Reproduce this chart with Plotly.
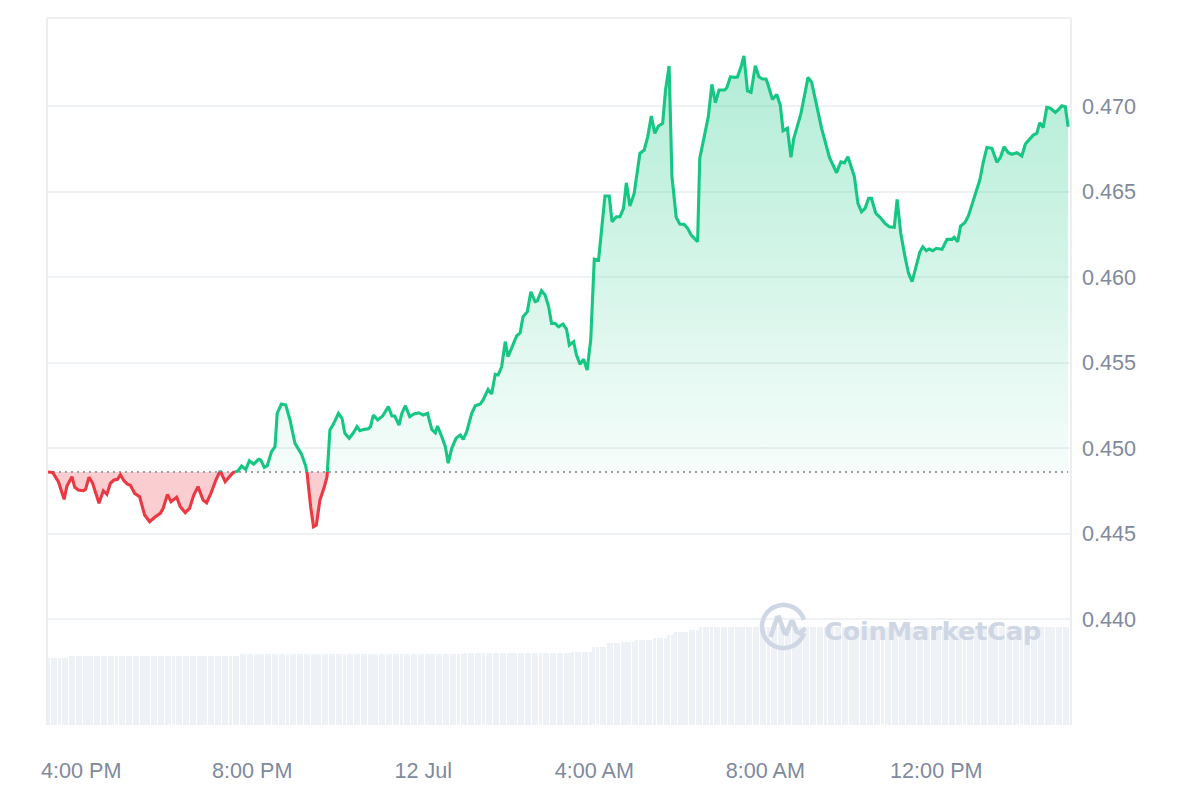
import math
import pandas as pd
import plotly.graph_objects as go

# ---------------- data ----------------
START = pd.Timestamp("2024-07-11 15:12")
WINDOW_MIN = 1437  # visible window length in minutes

# minutes after START for each price sample
price_minutes = [
    1, 8, 16, 24, 28, 35, 39, 44, 51, 54,
    59, 64, 73, 79, 84, 89, 94, 99, 103, 108,
    113, 117, 123, 130, 137, 144, 152, 159, 163, 169,
    174, 182, 187, 194, 200, 206, 212, 219, 224, 230,
    237, 243, 250, 256, 261, 268, 273, 279, 284, 290,
    297, 300, 305, 309, 315, 320, 323, 329, 335, 341,
    348, 357, 363, 365, 370, 374, 378, 383, 389, 393,
    397, 402, 409, 414, 418, 424, 430, 435, 439, 445,
    451, 454, 458, 464, 471, 479, 484, 488, 494, 498,
    503, 509, 515, 522, 528, 534, 540, 545, 548, 554,
    559, 563, 568, 574, 580, 584, 589, 596, 601, 608,
    612, 619, 624, 629, 633, 638, 643, 647, 654, 659,
    664, 668, 674, 679, 685, 688, 694, 699, 704, 708,
    713, 718, 724, 729, 733, 739, 743, 748, 753, 758,
    763, 768, 774, 779, 783, 789, 793, 799, 804, 809,
    813, 818, 824, 832, 838, 843, 848, 853, 858, 864,
    868, 873, 877, 883, 888, 894, 899, 904, 913, 916,
    922, 928, 933, 938, 943, 951, 954, 959, 966, 969,
    974, 978, 983, 988, 994, 999, 1004, 1009, 1012, 1018,
    1024, 1029, 1033, 1039, 1044, 1048, 1058, 1068, 1073, 1083,
    1087, 1098, 1108, 1114, 1119, 1124, 1133, 1138, 1143, 1148,
    1153, 1157, 1163, 1169, 1176, 1182, 1189, 1193, 1198, 1204,
    1209, 1214, 1220, 1225, 1229, 1234, 1238, 1243, 1248, 1256,
    1263, 1270, 1273, 1278, 1282, 1288, 1293, 1299, 1305, 1309,
    1314, 1319, 1326, 1333, 1338, 1343, 1349, 1354, 1361, 1368,
    1373, 1379, 1384, 1389, 1393, 1398, 1403, 1408, 1415, 1419,
    1424, 1429, 1433,
]

prices = [
    0.44860, 0.44857, 0.44803, 0.44700, 0.44778, 0.44832, 0.44770, 0.44754, 0.44750, 0.44758,
    0.44829, 0.44794, 0.44677, 0.44750, 0.44729, 0.44794, 0.44813, 0.44817, 0.44844, 0.44809,
    0.44788, 0.44782, 0.44735, 0.44715, 0.44608, 0.44569, 0.44598, 0.44618, 0.44647, 0.44729,
    0.44686, 0.44712, 0.44657, 0.44622, 0.44647, 0.44725, 0.44774, 0.44696, 0.44680, 0.44735,
    0.44813, 0.44866, 0.44803, 0.44832, 0.44856, 0.44866, 0.44895, 0.44875, 0.44926, 0.44906,
    0.44934, 0.44930, 0.44887, 0.44895, 0.44978, 0.45008, 0.45203, 0.45257, 0.45251, 0.45164,
    0.45027, 0.44965, 0.44895, 0.44852, 0.44657, 0.44540, 0.44550, 0.44696, 0.44770, 0.44832,
    0.45105, 0.45140, 0.45203, 0.45174, 0.45086, 0.45057, 0.45089, 0.45125, 0.45101, 0.45109,
    0.45113, 0.45125, 0.45193, 0.45164, 0.45187, 0.45242, 0.45187, 0.45187, 0.45134, 0.45203,
    0.45247, 0.45183, 0.45199, 0.45206, 0.45193, 0.45203, 0.45109, 0.45089, 0.45129, 0.45066,
    0.45008, 0.44911, 0.44998, 0.45057, 0.45076, 0.45051, 0.45095, 0.45203, 0.45247, 0.45257,
    0.45281, 0.45343, 0.45316, 0.45431, 0.45427, 0.45475, 0.45622, 0.45534, 0.45602, 0.45655,
    0.45674, 0.45768, 0.45797, 0.45914, 0.45856, 0.45860, 0.45920, 0.45895, 0.45826, 0.45729,
    0.45729, 0.45709, 0.45725, 0.45696, 0.45602, 0.45622, 0.45544, 0.45490, 0.45519, 0.45456,
    0.45632, 0.46104, 0.46099, 0.46294, 0.46474, 0.46474, 0.46323, 0.46353, 0.46353, 0.46402,
    0.46551, 0.46415, 0.46489, 0.46723, 0.46743, 0.46820, 0.46942, 0.46840, 0.46883, 0.46899,
    0.47094, 0.47234, 0.46587, 0.46349, 0.46310, 0.46308, 0.46285, 0.46246, 0.46206, 0.46694,
    0.46820, 0.46937, 0.47127, 0.47019, 0.47094, 0.47094, 0.47107, 0.47171, 0.47168, 0.47171,
    0.47230, 0.47294, 0.47088, 0.47080, 0.47236, 0.47171, 0.47158, 0.47158, 0.47123, 0.47039,
    0.47068, 0.47006, 0.46856, 0.46870, 0.46700, 0.46811, 0.46956, 0.47168, 0.47140, 0.46934,
    0.46870, 0.46700, 0.46610, 0.46674, 0.46668, 0.46704, 0.46587, 0.46431, 0.46382, 0.46402,
    0.46460, 0.46460, 0.46373, 0.46349, 0.46314, 0.46294, 0.46291, 0.46454, 0.46259, 0.46119,
    0.46022, 0.45973, 0.46060, 0.46148, 0.46177, 0.46154, 0.46164, 0.46154, 0.46168, 0.46162,
    0.46220, 0.46220, 0.46232, 0.46206, 0.46298, 0.46318, 0.46357, 0.46431, 0.46509, 0.46567,
    0.46674, 0.46758, 0.46753, 0.46671, 0.46700, 0.46762, 0.46727, 0.46718, 0.46727, 0.46708,
    0.46778, 0.46805, 0.46830, 0.46840, 0.46902, 0.46875, 0.46992, 0.46987, 0.46963, 0.46977,
    0.47002, 0.46996, 0.46879,
]

baseline_price = prices[0]

# 5-minute volume bars (relative units), read as step levels
volume = ([66.7] * 6 + [69.0] * 48 + [71.0] * 63 + [72.0] * 30 + [73.3] * 6
          + [78.3] * 4 + [81.7] * 4 + [83.3] * 4 + [85.0] * 5 + [86.7] * 4
          + [90.0] * 2 + [92.7] * 4 + [95.0] * 3 + [98.3] * 104)
VOLUME_AXIS_MAX = 707

x_tick_minutes = [48, 288, 528, 768, 1008, 1248]
x_tick_labels = ["4:00 PM", "8:00 PM", "12 Jul", "4:00 AM", "8:00 AM", "12:00 PM"]
y_tick_values = [0.440, 0.445, 0.450, 0.455, 0.460, 0.465, 0.470]
y_tick_labels = ["0.440", "0.445", "0.450", "0.455", "0.460", "0.465", "0.470"]
Y_RANGE = [0.43380, 0.47515]

# ---------------- styling ----------------
GREEN = "#16c784"
RED = "#ea3943"
TICK_COLOR = "#808a9d"
GRID = "#eff2f5"
FONT = "Liberation Sans, Arial, sans-serif"


def to_time(m):
    return None if m is None else START + pd.Timedelta(minutes=m)


# split the line into green (above baseline) and red (below) pieces
gx, gy, rx, ry = [], [], [], []
fx, fg, fr = [], [], []
for i, (m, p) in enumerate(zip(price_minutes, prices)):
    if i > 0:
        m0, p0 = price_minutes[i - 1], prices[i - 1]
        if (p0 >= baseline_price) != (p >= baseline_price):
            mc = m0 + (m - m0) * (baseline_price - p0) / (p - p0)
            fx.append(mc); fg.append(baseline_price); fr.append(baseline_price)
            if p0 >= baseline_price:
                gx += [mc, None]; gy += [baseline_price, None]
                rx.append(mc); ry.append(baseline_price)
            else:
                rx += [mc, None]; ry += [baseline_price, None]
                gx.append(mc); gy.append(baseline_price)
    if p >= baseline_price:
        gx.append(m); gy.append(p)
    else:
        rx.append(m); ry.append(p)
    fx.append(m)
    fg.append(max(p, baseline_price))
    fr.append(min(p, baseline_price))

fx_t = [to_time(m) for m in fx]
gx_t = [to_time(m) for m in gx]
rx_t = [to_time(m) for m in rx]
base_line = [baseline_price] * len(fx)

vol_x = [START + pd.Timedelta(minutes=2.5 + 5 * i) for i in range(len(volume))]

fig = go.Figure()

# volume bars (hidden secondary axis)
fig.add_trace(go.Bar(x=vol_x, y=volume, yaxis="y2", marker=dict(color="#eef1f5", line=dict(width=0)),
                     width=5 * 60 * 1000 * 0.86, hoverinfo="skip", showlegend=False))

# green fill
fig.add_trace(go.Scatter(x=fx_t, y=base_line, mode="lines", line=dict(width=0),
                         hoverinfo="skip", showlegend=False))
fig.add_trace(go.Scatter(x=fx_t, y=fg, mode="lines", line=dict(width=0), fill="tonexty",
                         fillgradient=dict(type="vertical", start=baseline_price, stop=0.4735,
                                           colorscale=[[0, "rgba(22,199,132,0.04)"],
                                                       [1, "rgba(22,199,132,0.34)"]]),
                         hoverinfo="skip", showlegend=False))
# red fill
fig.add_trace(go.Scatter(x=fx_t, y=base_line, mode="lines", line=dict(width=0),
                         hoverinfo="skip", showlegend=False))
fig.add_trace(go.Scatter(x=fx_t, y=fr, mode="lines", line=dict(width=0), fill="tonexty",
                         fillcolor="rgba(234,57,67,0.25)", hoverinfo="skip", showlegend=False))

# baseline dotted line
fig.add_trace(go.Scatter(x=[to_time(0), to_time(price_minutes[-1])], y=[baseline_price] * 2,
                         mode="lines", line=dict(color="#9aa1ad", width=2, dash="2px,4px"),
                         hoverinfo="skip", showlegend=False))

# price lines
fig.add_trace(go.Scatter(x=gx_t, y=gy, mode="lines", line=dict(color=GREEN, width=3.1),
                         connectgaps=False, showlegend=False))
fig.add_trace(go.Scatter(x=rx_t, y=ry, mode="lines", line=dict(color=RED, width=3.1),
                         connectgaps=False, showlegend=False))

# ---------------- watermark ----------------
L, R, T, B = 47, 1071, 18, 725


def pxx(x):
    return (x - L) / (R - L)


def pxy(y):
    return (B - y) / (B - T)


cx, cy, rad = 783.5, 626.5, 21.5
arc = []
for a in range(18, 343, 4):
    ar = math.radians(a)
    arc.append((cx + rad * math.cos(ar), cy - rad * math.sin(ar)))
arc_path = "M " + " L ".join(f"{pxx(x):.5f},{pxy(y):.5f}" for x, y in arc)
wave = [(770.5, 637), (777.0, 618.0), (779.0, 617.5), (784.5, 633.0), (786.5, 633.5),
        (791.0, 622.0), (793.0, 622.0), (796.5, 631.5), (799.5, 633.0), (805.5, 628.5)]
wave_path = "M " + " L ".join(f"{pxx(x):.5f},{pxy(y):.5f}" for x, y in wave)

shapes = [
    dict(type="path", xref="paper", yref="paper", path=arc_path,
         line=dict(color="#cfd6e4", width=4.5)),
    dict(type="path", xref="paper", yref="paper", path=wave_path,
         line=dict(color="#cfd6e4", width=4.5)),
    # plot frame (left, top, right)
    dict(type="line", xref="paper", yref="paper", x0=0, x1=0, y0=0, y1=1,
         line=dict(color="#eceef1", width=2)),
    dict(type="line", xref="paper", yref="paper", x0=0, x1=1, y0=1, y1=1,
         line=dict(color="#eceef1", width=2)),
    dict(type="line", xref="paper", yref="paper", x0=1, x1=1, y0=0, y1=1,
         line=dict(color="#eceef1", width=2)),
]

fig.update_layout(
    width=1200, height=800, autosize=False,
    margin=dict(l=L, r=1200 - R, t=T, b=800 - B),
    paper_bgcolor="white", plot_bgcolor="white",
    showlegend=False,
    font=dict(family=FONT, color=TICK_COLOR, size=21.6),
    bargap=0,
    xaxis=dict(type="date", range=[to_time(0), to_time(WINDOW_MIN)],
               tickvals=[to_time(m) for m in x_tick_minutes], ticktext=x_tick_labels,
               showgrid=False, zeroline=False, showline=False, ticks="",
               ticklabelstandoff=30,
               tickfont=dict(family=FONT, size=21.6, color=TICK_COLOR)),
    yaxis=dict(side="right", range=Y_RANGE, tickvals=y_tick_values, ticktext=y_tick_labels,
               showgrid=True, gridcolor=GRID, gridwidth=1.5, zeroline=False, showline=False,
               ticks="", ticklabelstandoff=10,
               tickfont=dict(family=FONT, size=21.6, color=TICK_COLOR)),
    yaxis2=dict(overlaying="y", range=[0, VOLUME_AXIS_MAX], visible=False, showgrid=False),
    shapes=shapes,
    annotations=[dict(xref="paper", yref="paper", x=pxx(822), y=pxy(631), xanchor="left",
                      yanchor="middle", text="<b>CoinMarketCap</b>", showarrow=False,
                      font=dict(family="DejaVu Sans", size=25.4, color="#cfd6e4"))],
)

fig.write_html("out.html", config={"displayModeBar": False},
               post_script="document.body.style.margin='0';")
